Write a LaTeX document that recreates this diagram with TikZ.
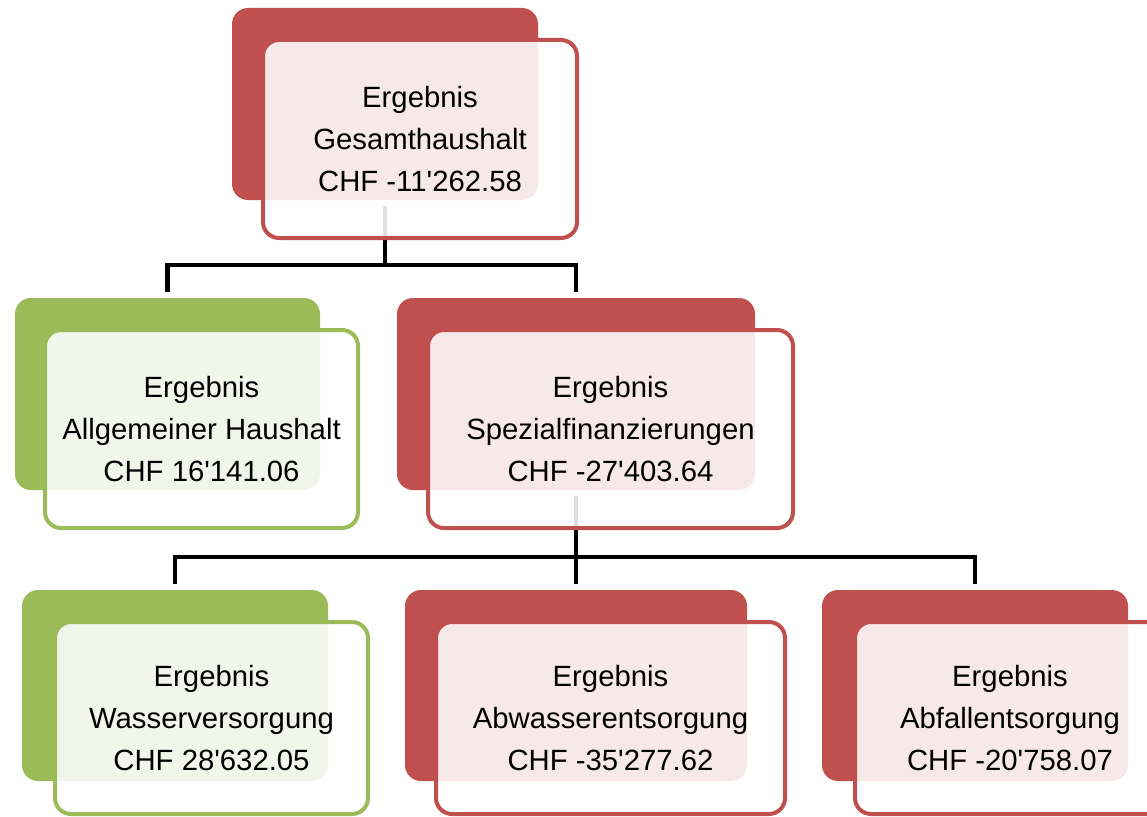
\documentclass[tikz,border=0pt]{standalone}
\usepackage{fontspec}
\newfontfamily\arialf{Liberation Sans}
\definecolor{redc}{HTML}{C0504D}
\definecolor{greenc}{HTML}{9BBB59}
\pgfdeclarelayer{connlayer}
\pgfsetlayers{connlayer,main}
\begin{document}
\begin{tikzpicture}[x=1pt,y=-1pt,
  backbox/.style={rectangle,rounded corners=16pt,inner sep=0pt,fill=#1,draw=none},
  frontbox/.style={rectangle,rounded corners=16pt,inner sep=0pt,draw=#1,line width=4pt,
     fill=white,fill opacity=0.88,text opacity=1,align=center,
     font=\arialf\fontsize{29.3}{42}\selectfont},
  connstub/.style={draw=black,line width=4.5pt,shorten >=6pt},
  connstart/.style={draw=black,line width=4.5pt,shorten <=6pt}]
\useasboundingbox (0,0) rectangle (1147,816);
\clip (0,0) rectangle (1147,816);
% junctions
\coordinate (j1) at (385,265);
\coordinate (j2) at (576,557);
% back boxes
\node[backbox=redc,minimum width=306pt,minimum height=192pt] (b1) at (385,104) {};
\node[backbox=greenc,minimum width=305pt,minimum height=192pt] (b2a) at (167.5,394) {};
\node[backbox=redc,minimum width=358pt,minimum height=192pt] (b2b) at (576,394) {};
\node[backbox=greenc,minimum width=306pt,minimum height=191pt] (b3a) at (175,685.5) {};
\node[backbox=redc,minimum width=342pt,minimum height=191pt] (b3b) at (576,685.5) {};
\node[backbox=redc,minimum width=306pt,minimum height=191pt] (b3c) at (975,685.5) {};
% connectors (behind the boxes)
\begin{pgfonlayer}{connlayer}
\path[connstart] (b1.south) -- (j1);
\path[connstub] (j1) -| (b2a.north);
\path[connstub] (j1) -| (b2b.north);
\path[connstart] (b2b.south) -- (j2);
\path[connstub] (j2) -| (b3a.north);
\path[connstub] (j2) -- (b3b.north);
\path[connstub] (j2) -| (b3c.north);
\end{pgfonlayer}
% front boxes
\node[frontbox=redc,minimum width=314pt,minimum height=198pt] (f1) at (420,139)
  {Ergebnis\\Gesamthaushalt\\CHF -11'262.58};
\node[frontbox=greenc,minimum width=313pt,minimum height=198pt] (f2a) at (201.5,429)
  {Ergebnis\\Allgemeiner Haushalt\\CHF 16'141.06};
\node[frontbox=redc,minimum width=365pt,minimum height=198pt] (f2b) at (610.5,429)
  {Ergebnis\\Spezialfinanzierungen\\CHF -27'403.64};
\node[frontbox=greenc,minimum width=313pt,minimum height=192pt] (f3a) at (211.5,718)
  {Ergebnis\\Wasserversorgung\\CHF 28'632.05};
\node[frontbox=redc,minimum width=349pt,minimum height=192pt] (f3b) at (610.5,718)
  {Ergebnis\\Abwasserentsorgung\\CHF -35'277.62};
\node[frontbox=redc,minimum width=310pt,minimum height=192pt] (f3c) at (1010,718)
  {Ergebnis\\Abfallentsorgung\\CHF -20'758.07};
\end{tikzpicture}
\end{document}
